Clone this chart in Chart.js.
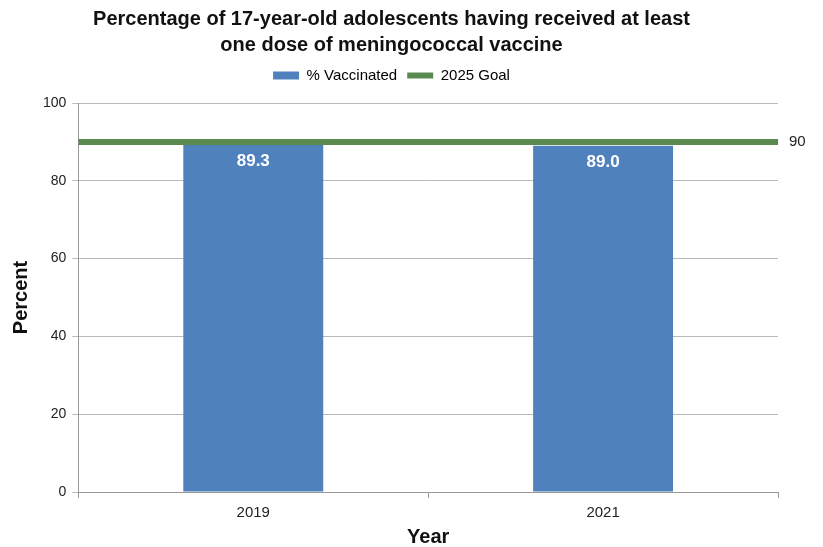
<!DOCTYPE html>
<html>
<head>
<meta charset="utf-8">
<script src="https://cdn.jsdelivr.net/npm/chart.js@4"></script>
<style>
  html,body{margin:0;padding:0;background:#fff;}
  #wrap{width:823px;height:547px;position:relative;}
</style>
</head>
<body>
<div id="wrap"><canvas id="chart" width="823" height="547"></canvas></div>
<script>
const years = ["2019","2021"];
const vaccinated = [89.3, 89.0];
const goalValue = 90;
const goalLine = [{x:0,y:goalValue},{x:1,y:goalValue}];

const FONT = "'Liberation Sans', Arial, sans-serif";

// white value labels inside bar tops + goal value at right end
const labelsPlugin = {
  id:"labels",
  afterDatasetsDraw(chart){
    const ctx = chart.ctx;
    const meta = chart.getDatasetMeta(0);
    ctx.save();
    ctx.font = "bold 17px " + FONT;
    ctx.fillStyle = "#fff";
    ctx.textAlign = "center";
    ctx.textBaseline = "middle";
    meta.data.forEach((bar,i) => {
      ctx.fillText(vaccinated[i].toFixed(1), bar.x, bar.y + 17);
    });
    const y = chart.scales.y.getPixelForValue(goalValue);
    ctx.font = "15px " + FONT;
    ctx.fillStyle = "#222";
    ctx.textAlign = "left";
    ctx.fillText(String(goalValue), chart.chartArea.right + 11, y);
    ctx.restore();
  }
};

// a bit more room between legend and plot
const legendGap = {
  id:"legendGap",
  beforeInit(chart){
    const fit = chart.legend.fit;
    chart.legend.fit = function(){ fit.bind(chart.legend)(); this.height += 10; };
  }
};

new Chart(document.querySelector("#chart"), {
  type:"bar",
  data:{
    labels: years,
    datasets:[
      { label:"% Vaccinated", data:vaccinated, backgroundColor:"#4f81bd",
        categoryPercentage:1, barPercentage:0.4, grouped:false, order:2 },
      { type:"line", label:"2025 Goal", data:goalLine, xAxisID:"x2",
        borderColor:"#5a8a50", backgroundColor:"#5a8a50", borderWidth:6,
        pointRadius:0, order:1 }
    ]
  },
  options:{
    responsive:false,
    animation:false,
    layout:{ padding:{ left:5, right:45, top:2, bottom:0 } },
    plugins:{
      title:{ display:true, text:["Percentage of 17-year-old adolescents having received at least","one dose of meningococcal vaccine"],
        color:"#111", font:{ family:FONT, size:20, weight:"bold", lineHeight:1.3 }, padding:{ top:4, bottom:0 } },
      legend:{ labels:{ color:"#222", font:{ family:FONT, size:15 }, usePointStyle:true, pointStyleWidth:26, boxHeight:8, padding:10,
        generateLabels(chart){
          return [
            { text:"% Vaccinated", fillStyle:"#4f81bd", strokeStyle:"#4f81bd", lineWidth:0, pointStyle:"rect", datasetIndex:0 },
            { text:"2025 Goal", fillStyle:"#5a8a50", strokeStyle:"#5a8a50", lineWidth:6, pointStyle:"line", datasetIndex:1 }
          ];
        } } },
      tooltip:{ enabled:false }
    },
    scales:{
      x:{ offset:true,
        grid:{ offset:true, drawOnChartArea:false, drawTicks:true, tickLength:6, color:"#999" },
        border:{ color:"#999" },
        ticks:{ color:"#222", font:{ family:FONT, size:15, lineHeight:1.0 }, padding:7 },
        title:{ display:true, text:"Year", color:"#111", font:{ family:FONT, size:20, weight:"bold", lineHeight:1.0 }, padding:{ top:0, bottom:0 } } },
      x2:{ type:"linear", display:false, min:0, max:1, offset:false },
      y:{ min:0, max:100,
        grid:{ color:"#b8b8b8", tickLength:6 },
        border:{ color:"#999" },
        ticks:{ stepSize:20, color:"#222", font:{ family:FONT, size:14 }, padding:6 },
        title:{ display:true, text:"Percent", color:"#111", font:{ family:FONT, size:20, weight:"bold" }, padding:{ bottom:4 } } }
    }
  },
  plugins:[labelsPlugin, legendGap]
});
</script>
</body>
</html>
